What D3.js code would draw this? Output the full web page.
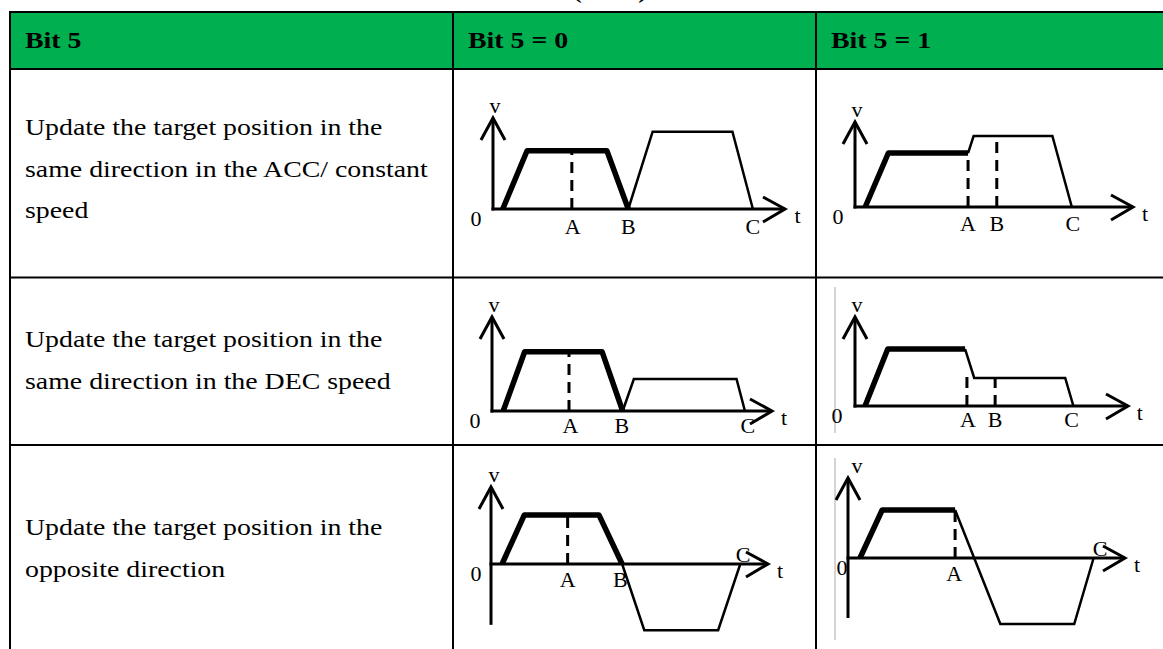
<!DOCTYPE html>
<html>
<head>
<meta charset="utf-8">
<script src="https://cdn.jsdelivr.net/npm/d3@7"></script>
<style>
  html, body { margin: 0; padding: 0; background: #fff; }
  svg { display: block; font-family: "Liberation Serif", "Times New Roman", serif; }
</style>
</head>
<body>
<div id="chart"></div>
<script>
// ---- table content ----
const headers = ['Bit 5', 'Bit 5 = 0', 'Bit 5 = 1']
const rowTexts = [
  ['Update the target position in the', 'same direction in the ACC/ constant', 'speed'],
  ['Update the target position in the', 'same direction in the DEC speed'],
  ['Update the target position in the', 'opposite direction']
]

// ---- velocity profiles, [t, v] in picture units (t axis 0..30, v axis 0..10) ----
// thick = first move, thin = move after the target update
const accOld0 = [[1.0, 0], [3.5, 6.4], [11.7, 6.4], [13.9, 0]]
const accNew0 = [[13.9, 0], [16.4, 8.5], [24.6, 8.5], [26.7, 0]]
const accOld1 = [[1.1, 0], [3.6, 6.35], [12.2, 6.35]]
const accNew1 = [[12.2, 6.35], [12.8, 8.35], [21.3, 8.35], [23.4, 0]]
const decOld0 = [[1.2, 0], [3.5, 6.3], [11.8, 6.3], [14.0, 0]]
const decNew0 = [[14.0, 0], [15.2, 3.4], [26.2, 3.4], [27.1, 0]]
const decOld1 = [[1.1, 0], [3.6, 6.4], [12.1, 6.4]]
const decNew1 = [[12.1, 6.4], [13.1, 3.15], [23.1, 3.15], [24.0, 0]]
const oppOld0 = [[1.2, 0], [3.6, 6.35], [11.7, 6.35], [14.2, 0]]
const oppNew0 = [[14.2, 0], [16.6, -8.6], [24.6, -8.6], [27.0, 0]]
const oppOld1 = [[1.3, 0], [3.7, 6.0], [11.6, 6.0]]
const oppNew1 = [[11.6, 6.0], [16.5, -8.25], [24.5, -8.25], [26.6, 0]]

// dashed drop lines [t, vTop]
const accDash0 = [[8.1, 6.4]]
const accDash1 = [[12.2, 6.35], [15.3, 8.35]]
const decDash0 = [[8.25, 6.3]]
const decDash1 = [[12.3, 3.6], [15.4, 3.15]]
const oppDash0 = [[8.3, 6.35]]
const oppDash1 = [[11.6, 6.0]]

// point labels [name, t, side]
const accLab0 = [['A', 8.2, 'below'], ['B', 13.9, 'below'], ['C', 26.7, 'below']]
const accLab1 = [['A', 12.2, 'below'], ['B', 15.3, 'below'], ['C', 23.5, 'below']]
const decLab0 = [['A', 8.4, 'below'], ['B', 13.9, 'below'], ['C', 27.4, 'below']]
const decLab1 = [['A', 12.4, 'below'], ['B', 15.4, 'below'], ['C', 23.8, 'below']]
const oppLab0 = [['A', 8.3, 'below'], ['B', 14.0, 'below'], ['C', 27.3, 'above']]
const oppLab1 = [['A', 11.5, 'below'], ['C', 27.3, 'above']]

// ---- layout ----
const W = 1163, H = 649
const colX = [10, 453, 816, W]
const rowY = [12, 69, 277.5, 445, H]
const textRows = [[135, 176.5, 218], [347, 388.5], [535, 576.5]]
// diagram frames in pixels: origin (x0,y0), t tip x1, v tip y1, lowest v in units
const frames = [
  { x0: 493, y0: 209, x1: 785, y1: 118, vMin: 0, zx: -17, vx: 2, ldy: 17 },
  { x0: 855, y0: 207, x1: 1133, y1: 122, vMin: 0, zx: -17, vx: 2, ldy: 16 },
  { x0: 492, y0: 411, x1: 772, y1: 317, vMin: 0, zx: -17, vx: 2, ldy: 14 },
  { x0: 855, y0: 406, x1: 1128, y1: 317, vMin: 0, zx: -18, vx: 2, ldy: 13 },
  { x0: 491, y0: 564, x1: 768, y1: 487, vMin: -7.9, zx: -15, vx: 3, ldy: 15 },
  { x0: 848, y0: 558, x1: 1125, y1: 478, vMin: -7.5, zx: -6, vx: 9, ldy: 15 }
]

const diagrams = [
  { old: accOld0, upd: accNew0, dash: accDash0, labels: accLab0 },
  { old: accOld1, upd: accNew1, dash: accDash1, labels: accLab1 },
  { old: decOld0, upd: decNew0, dash: decDash0, labels: decLab0 },
  { old: decOld1, upd: decNew1, dash: decDash1, labels: decLab1 },
  { old: oppOld0, upd: oppNew0, dash: oppDash0, labels: oppLab0 },
  { old: oppOld1, upd: oppNew1, dash: oppDash1, labels: oppLab1 }
]

const svg = d3.select('#chart').append('svg')
  .attr('width', W).attr('height', H)

// cut-off caption above the table
svg.append('text')
  .attr('transform', 'translate(610,-2) scale(1.16,1)')
  .attr('text-anchor', 'middle')
  .attr('font-weight', 'bold')
  .attr('font-size', 24)
  .text('(Bit 5)')

// header band
svg.append('rect')
  .attr('x', colX[0]).attr('y', rowY[0])
  .attr('width', W - colX[0]).attr('height', rowY[1] - rowY[0])
  .attr('fill', '#00b050')

svg.selectAll('text.head')
  .data(headers)
  .enter()
  .append('text')
  .attr('class', 'head')
  .attr('transform', (d, i) => `translate(${colX[i] + (i ? 15 : 15)},48) scale(1.16,1)`)
  .attr('font-weight', 'bold')
  .attr('font-size', 24)
  .text(d => d)

// row descriptions
rowTexts.forEach((lines, r) => {
  svg.selectAll(null)
    .data(lines)
    .enter()
    .append('text')
    .attr('transform', (d, i) => `translate(25,${textRows[r][i]}) scale(1.16,1)`)
    .attr('font-size', 24)
    .text(d => d)
})

// grid lines
let grid = svg.append('g').attr('stroke', '#000').attr('stroke-width', 2)
grid.selectAll('line.h')
  .data(rowY.slice(0, 4))
  .enter().append('line')
  .attr('x1', colX[0] - 1).attr('x2', W)
  .attr('y1', d => d).attr('y2', d => d)
grid.selectAll('line.v')
  .data(colX.slice(0, 3))
  .enter().append('line')
  .attr('x1', d => d).attr('x2', d => d)
  .attr('y1', rowY[0] - 1).attr('y2', H)

// faint image edges in the right column
svg.selectAll('line.edge')
  .data([[287, 433], [458, 640]])
  .enter().append('line')
  .attr('x1', 835).attr('x2', 835)
  .attr('y1', d => d[0]).attr('y2', d => d[1])
  .attr('stroke', '#aaa').attr('stroke-width', 1)

function drawDiagram(g, d, f) {
  let x = d3.scaleLinear().domain([0, 30]).range([f.x0, f.x1]),
      y = d3.scaleLinear().domain([0, 10]).range([f.y0, f.y1]),
      line = d3.line().x(p => x(p[0])).y(p => y(p[1])),
      px = d3.line()

  // axes with open arrow heads
  let ax = g.append('g').attr('stroke', '#000').attr('stroke-width', 3).attr('fill', 'none')
  ax.append('line').attr('x1', x(0)).attr('x2', x(0)).attr('y1', y(f.vMin) + (f.vMin ? 0 : 1.5)).attr('y2', y(10))
  ax.append('line').attr('x1', x(0) - 1.5).attr('x2', x(30)).attr('y1', y(0)).attr('y2', y(0))
  ax.append('path').attr('d', px([[x(0) - 12, y(10) + 22], [x(0), y(10)], [x(0) + 12, y(10) + 22]]))
  ax.append('path').attr('d', px([[x(30) - 22, y(0) - 12], [x(30), y(0)], [x(30) - 22, y(0) + 13]]))

  // dashed drop lines
  g.selectAll('line.dash')
    .data(d.dash)
    .enter().append('line')
    .attr('x1', p => x(p[0])).attr('x2', p => x(p[0]))
    .attr('y1', y(0)).attr('y2', p => y(p[1]))
    .attr('stroke', '#000').attr('stroke-width', 3)
    .attr('stroke-dasharray', '11,7')

  g.append('path').attr('d', line(d.upd))
    .attr('fill', 'none').attr('stroke', '#000').attr('stroke-width', 2.5)
  g.append('path').attr('d', line(d.old))
    .attr('fill', 'none').attr('stroke', '#000').attr('stroke-width', 5.5)
    .attr('stroke-linejoin', 'round')

  // labels
  let lab = g.append('g').attr('font-size', 22).attr('text-anchor', 'middle')
    .attr('dominant-baseline', 'central')
  lab.selectAll('text.pt')
    .data(d.labels)
    .enter().append('text')
    .attr('x', p => x(p[1]))
    .attr('y', p => p[2] === 'above' ? y(0) - 10 : y(0) + f.ldy)
    .text(p => p[0])
  lab.append('text').attr('x', x(0) + f.zx).attr('y', y(0) + 9).text('0')
  lab.append('text').attr('x', x(0) + f.vx).attr('y', y(10) - 13).text('v')
  lab.append('text').attr('x', x(31.3)).attr('y', y(0) + 6).text('t')
}

diagrams.forEach((d, i) => drawDiagram(svg.append('g'), d, frames[i]))
</script>
</body>
</html>
